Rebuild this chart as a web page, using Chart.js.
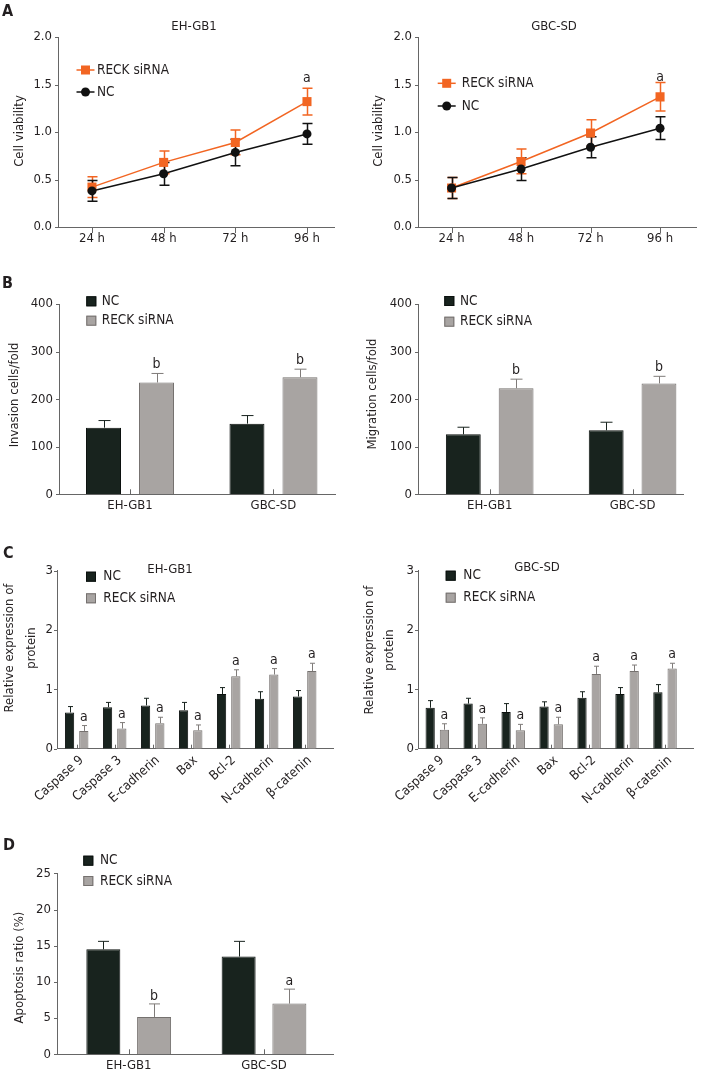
<!DOCTYPE html>
<html><head><meta charset="utf-8">
<script src="https://cdn.jsdelivr.net/npm/chart.js@4.4.1/dist/chart.umd.min.js"></script>
<style>
html,body{margin:0;padding:0;background:#fff;}
#wrap{position:relative;width:703px;height:1075px;overflow:hidden;background:#fff;}
canvas{position:absolute;left:0;top:0;}
</style></head><body><div id="wrap">
<canvas id="a1" width="703" height="1075"></canvas>
<canvas id="a2" width="703" height="1075"></canvas>
<canvas id="b1" width="703" height="1075"></canvas>
<canvas id="b2" width="703" height="1075"></canvas>
<canvas id="c1" width="703" height="1075"></canvas>
<canvas id="c2" width="703" height="1075"></canvas>
<canvas id="d1" width="703" height="1075"></canvas>
</div>
<script>
// ---------- DATA ----------
const seriesNames = ['NC', 'RECK siRNA'];
const timeLabels = ['24 h', '48 h', '72 h', '96 h'];
const cellLabels = ['EH-GB1', 'GBC-SD'];
const proteinLabels = ['Caspase 9', 'Caspase 3', 'E-cadherin', 'Bax', 'Bcl-2', 'N-cadherin', 'β-catenin'];

// A: cell viability
const viabEH_NC = [0.38, 0.56, 0.785, 0.98];
const viabEH_NC_err = [0.11, 0.12, 0.14, 0.11];
const viabEH_RECK = [0.42, 0.68, 0.89, 1.32];
const viabEH_RECK_err = [0.11, 0.12, 0.13, 0.14];
const viabGBC_NC = [0.41, 0.61, 0.84, 1.04];
const viabGBC_NC_err = [0.11, 0.12, 0.11, 0.12];
const viabGBC_RECK = [0.41, 0.69, 0.99, 1.37];
const viabGBC_RECK_err = [0.11, 0.13, 0.14, 0.15];
const viabSig = ['', '', '', 'a'];

// B: invasion / migration
const invasionNC = [140, 148.5];
const invasionNC_err = [15, 17];
const invasionRECK = [235, 246];
const invasionRECK_err = [19, 17];
const migrationNC = [126, 134.5];
const migrationNC_err = [15, 17];
const migrationRECK = [223, 233];
const migrationRECK_err = [19, 15];
const bSig = ['b', 'b'];

// C: relative protein expression
const protEH_NC = [0.61, 0.70, 0.73, 0.65, 0.92, 0.84, 0.88];
const protEH_NC_err = [0.10, 0.08, 0.12, 0.13, 0.11, 0.12, 0.10];
const protEH_RECK = [0.30, 0.34, 0.43, 0.31, 1.22, 1.25, 1.31];
const protEH_RECK_err = [0.09, 0.10, 0.10, 0.09, 0.11, 0.10, 0.13];
const protGBC_NC = [0.69, 0.76, 0.62, 0.71, 0.86, 0.92, 0.95];
const protGBC_NC_err = [0.12, 0.09, 0.14, 0.08, 0.10, 0.11, 0.13];
const protGBC_RECK = [0.32, 0.42, 0.31, 0.41, 1.26, 1.31, 1.35];
const protGBC_RECK_err = [0.10, 0.10, 0.10, 0.12, 0.13, 0.10, 0.09];
const cSig = ['a', 'a', 'a', 'a', 'a', 'a', 'a'];

// D: apoptosis
const apopNC = [14.5, 13.5];
const apopNC_err = [1.1, 2.1];
const apopRECK = [5.16, 7.0];
const apopRECK_err = [1.8, 2.0];
const dSig = ['b', 'a'];

// ---------- STYLE ----------
const W = 703, H = 1075;
// pick a Tahoma-like condensed face if available
const probe = document.createElement('canvas').getContext('2d');
probe.font = '20px "DejaVu Sans Condensed", "DejaVu Sans"';
const wCond = probe.measureText('RECK siRNA').width;
probe.font = '20px "DejaVu Sans"';
const wReg = probe.measureText('RECK siRNA').width;
const HAS_COND = wCond < wReg - 1;
const FONT = HAS_COND ? '"DejaVu Sans Condensed", "DejaVu Sans"' : '"DejaVu Sans"';
const FS = HAS_COND ? 13 : 12;        // ticks, titles
const FS_LEG = HAS_COND ? 13.5 : 12;  // legend
const TXT = '#231f20';
const AXIS = '#666666';
const ORANGE = '#f26522';
const BLACK = '#111111';
const DARK = '#18231e';
const DARK_EDGE = '#0b100e';
const GREY = '#a8a4a2';
const GREY_EDGE = '#75716f';
const GREY_ERR = '#7f7b79';
Chart.defaults.font.family = FONT;
Chart.defaults.color = TXT;

const decoCfg = {};
function drawErrors(chart, c) {
  const ctx = chart.ctx, ys = chart.scales.y;
  (c.errors || []).forEach(e => {
    const meta = chart.getDatasetMeta(e.ds);
    const vals = chart.data.datasets[e.ds].data;
    ctx.save();
    ctx.strokeStyle = e.color; ctx.lineWidth = e.lw || 1;
    meta.data.forEach((el, i) => {
      const v = vals[i].y, er = e.err[i];
      const x = Math.round(el.x) + 0.5;
      const yt = ys.getPixelForValue(v + er);
      const yb = e.both ? ys.getPixelForValue(v - er) : ys.getPixelForValue(v);
      ctx.beginPath();
      ctx.moveTo(x, yb); ctx.lineTo(x, yt);
      ctx.moveTo(x - e.cap, yt); ctx.lineTo(x + e.cap, yt);
      if (e.both) { ctx.moveTo(x - e.cap, yb); ctx.lineTo(x + e.cap, yb); }
      ctx.stroke();
    });
    ctx.restore();
  });
}
function drawSig(chart, c) {
  const s = c.sig; if (!s) return;
  const ctx = chart.ctx, ys = chart.scales.y;
  const meta = chart.getDatasetMeta(s.ds);
  const vals = chart.data.datasets[s.ds].data;
  ctx.save();
  ctx.font = (s.size || FS + 1) + 'px ' + FONT;
  ctx.fillStyle = TXT; ctx.textAlign = 'center'; ctx.textBaseline = 'alphabetic';
  meta.data.forEach((el, i) => {
    const lab = s.labels[i]; if (!lab) return;
    const top = ys.getPixelForValue(vals[i].y + s.err[i]);
    ctx.fillText(lab, el.x, top - s.gap);
  });
  ctx.restore();
}
function drawTicks(chart, c) {
  const ctx = chart.ctx, xs = chart.scales.x, ys = chart.scales.y, a = chart.chartArea;
  ctx.save(); ctx.strokeStyle = AXIS; ctx.lineWidth = 1; ctx.beginPath();
  xs.ticks.forEach(t => {
    const x = Math.round(xs.getPixelForValue(t.value)) + 0.5;
    ctx.moveTo(x, a.bottom); ctx.lineTo(x, a.bottom + c.xTick);
  });
  ys.ticks.forEach(t => {
    const y = Math.round(ys.getPixelForValue(t.value)) + 0.5;
    ctx.moveTo(a.left, y); ctx.lineTo(a.left - c.yTick, y);
  });
  ctx.stroke(); ctx.restore();
}
function drawLegend(chart, c) {
  const ctx = chart.ctx;
  (c.legend || []).forEach(it => {
    const ds = chart.data.datasets[it.ds];
    ctx.save();
    if (it.kind === 'line') {
      ctx.strokeStyle = ds.borderColor; ctx.lineWidth = ds.borderWidth;
      ctx.beginPath(); ctx.moveTo(it.x - 9, it.y); ctx.lineTo(it.x + 9, it.y); ctx.stroke();
      ctx.fillStyle = ds.pointBackgroundColor;
      if (ds.pointStyle === 'rect') {
        ctx.fillRect(it.x - 4.5, it.y - 4.5, 9, 9);
      } else {
        ctx.beginPath(); ctx.arc(it.x, it.y, ds.pointRadius, 0, Math.PI * 2); ctx.fill();
      }
    } else {
      ctx.fillStyle = ds.backgroundColor; ctx.strokeStyle = ds.borderColor; ctx.lineWidth = 1;
      ctx.fillRect(it.x - 5, it.y - 5, 10, 10);
      ctx.strokeRect(it.x - 4.5, it.y - 4.5, 9, 9);
    }
    ctx.fillStyle = TXT; ctx.font = FS_LEG + 'px ' + FONT;
    ctx.textAlign = 'left'; ctx.textBaseline = 'middle';
    ctx.fillText(it.text, it.tx, it.y);
    ctx.restore();
  });
}
function drawTexts(chart, c) {
  const ctx = chart.ctx;
  (c.texts || []).forEach(t => {
    ctx.save();
    ctx.font = t.font || (FS + 'px ' + FONT);
    ctx.fillStyle = TXT; ctx.textAlign = t.align || 'center'; ctx.textBaseline = 'middle';
    ctx.translate(t.x, t.y);
    if (t.rot) ctx.rotate(t.rot * Math.PI / 180);
    ctx.fillText(t.text, 0, 0);
    ctx.restore();
  });
}
const decoPlugin = {
  id: 'deco',
  beforeDatasetsDraw(chart) { const c = decoCfg[chart.canvas.id]; if (c.errorsBehind) drawErrors(chart, c); },
  afterDatasetsDraw(chart) { const c = decoCfg[chart.canvas.id]; if (!c.errorsBehind) drawErrors(chart, c); drawSig(chart, c); },
  afterDraw(chart) { const c = decoCfg[chart.canvas.id]; drawTicks(chart, c); drawLegend(chart, c); drawTexts(chart, c); }
};

const pts = arr => arr.map((v, i) => ({ x: i, y: v }));

function buildChart(id, type, area, xc, yc, datasets, deco) {
  const YW = 50;
  const XH = Math.min(70, H - area.bottom);
  decoCfg[id] = deco;
  return new Chart(document.getElementById(id), {
    type: type,
    data: { datasets: datasets },
    options: {
      responsive: false, animation: false, devicePixelRatio: 1, events: [],
      layout: { padding: { left: area.left - YW, top: area.top, right: W - area.right, bottom: H - area.bottom - XH } },
      plugins: { legend: { display: false }, tooltip: { enabled: false }, title: { display: false } },
      scales: {
        x: {
          type: 'linear', bounds: 'data', offset: false, min: xc.min, max: xc.max,
          afterBuildTicks: s => { s.ticks = xc.labels.map((_, i) => ({ value: i })); },
          afterFit: s => { s.height = XH; },
          grid: { display: false, drawTicks: false },
          border: { display: true, color: AXIS, width: 1 },
          ticks: {
            autoSkip: false, minRotation: xc.rot || 0, maxRotation: xc.rot || 0,
            padding: xc.pad, labelOffset: xc.labelOffset || 0,
            font: { family: FONT, size: xc.size || FS }, color: TXT,
            callback: v => xc.labels[v]
          }
        },
        y: {
          type: 'linear', min: 0, max: yc.max,
          afterFit: s => { s.width = YW; },
          grid: { display: false, drawTicks: false },
          border: { display: true, color: AXIS, width: 1 },
          ticks: {
            stepSize: yc.step, padding: yc.pad,
            font: { family: FONT, size: FS }, color: TXT,
            callback: v => (yc.fmt ? v.toFixed(yc.fmt) : String(v))
          }
        }
      }
    },
    plugins: [decoPlugin]
  });
}

function lineSets(nc, reck) {
  return [
    { type: 'line', label: seriesNames[0], data: pts(nc), borderColor: BLACK, backgroundColor: BLACK,
      borderWidth: 1.5, pointStyle: 'circle', pointRadius: 4.5, pointBackgroundColor: BLACK, pointBorderWidth: 0, tension: 0, fill: false },
    { type: 'line', label: seriesNames[1], data: pts(reck), borderColor: ORANGE, backgroundColor: ORANGE,
      borderWidth: 1.5, pointStyle: 'rect', pointRadius: 6.4, pointBackgroundColor: ORANGE, pointBorderWidth: 0, tension: 0, fill: false }
  ];
}
function barSets(nc, reck, cp, bp) {
  return [
    { label: seriesNames[0], data: pts(nc), backgroundColor: DARK, borderColor: DARK_EDGE, borderWidth: 1, categoryPercentage: cp, barPercentage: bp },
    { label: seriesNames[1], data: pts(reck), backgroundColor: GREY, borderColor: GREY_EDGE, borderWidth: 1, categoryPercentage: cp, barPercentage: bp }
  ];
}
const BOLD = 'bold 16px ' + FONT;

// ---- A1 ----
buildChart('a1', 'line', { left: 58, top: 37, right: 334, bottom: 227 },
  { min: -0.474, max: 3.377, labels: timeLabels, pad: 4 },
  { max: 2, step: 0.5, fmt: 1, pad: 6 },
  lineSets(viabEH_NC, viabEH_RECK),
  { errorsBehind: true, xTick: 6, yTick: 3,
    errors: [{ ds: 1, err: viabEH_RECK_err, color: ORANGE, cap: 5, both: true, lw: 1.5 },
             { ds: 0, err: viabEH_NC_err, color: BLACK, cap: 5, both: true, lw: 1.5 }],
    sig: { ds: 1, labels: viabSig, err: viabEH_RECK_err, gap: 6.5 },
    legend: [{ kind: 'line', ds: 1, x: 85.5, y: 70, tx: 97, text: seriesNames[1] },
             { kind: 'line', ds: 0, x: 85.5, y: 92, tx: 97, text: seriesNames[0] }],
    texts: [{ text: 'A', x: 2, y: 12, font: BOLD, align: 'left' },
            { text: cellLabels[0], x: 194, y: 27 },
            { text: 'Cell viability', x: 20, y: 131, rot: -90 }] });

// ---- A2 ----
buildChart('a2', 'line', { left: 418, top: 37, right: 700, bottom: 227 },
  { min: -0.483, max: 3.526, labels: timeLabels, pad: 4 },
  { max: 2, step: 0.5, fmt: 1, pad: 6 },
  lineSets(viabGBC_NC, viabGBC_RECK),
  { errorsBehind: true, xTick: 6, yTick: 3,
    errors: [{ ds: 1, err: viabGBC_RECK_err, color: ORANGE, cap: 5, both: true, lw: 1.5 },
             { ds: 0, err: viabGBC_NC_err, color: BLACK, cap: 5, both: true, lw: 1.5 }],
    sig: { ds: 1, labels: viabSig, err: viabGBC_RECK_err, gap: 2 },
    legend: [{ kind: 'line', ds: 1, x: 446.7, y: 83.3, tx: 461.7, text: seriesNames[1] },
             { kind: 'line', ds: 0, x: 446.7, y: 106, tx: 461.7, text: seriesNames[0] }],
    texts: [{ text: cellLabels[1], x: 554, y: 27 },
            { text: 'Cell viability', x: 379, y: 131, rot: -90 }] });

// ---- B1 ----
buildChart('b1', 'bar', { left: 59, top: 304, right: 335, bottom: 494.3 },
  { min: -0.495, max: 1.429, labels: cellLabels, pad: 4 },
  { max: 400, step: 100, pad: 6 },
  barSets(invasionNC, invasionRECK, 0.739, 0.66),
  { xTick: -5, yTick: 3,
    errors: [{ ds: 0, err: invasionNC_err, color: DARK, cap: 6 },
             { ds: 1, err: invasionRECK_err, color: GREY_ERR, cap: 6 }],
    sig: { ds: 1, labels: bSig, err: invasionRECK_err, gap: 5 },
    legend: [{ kind: 'box', ds: 0, x: 91.3, y: 301.3, tx: 101.7, text: seriesNames[0] },
             { kind: 'box', ds: 1, x: 91.3, y: 320.7, tx: 101.7, text: seriesNames[1] }],
    texts: [{ text: 'B', x: 2, y: 284, font: BOLD, align: 'left' },
            { text: 'Invasion cells/fold', x: 14.5, y: 395, rot: -90 }] });

// ---- B2 ----
buildChart('b2', 'bar', { left: 418, top: 304, right: 683, bottom: 494.3 },
  { min: -0.502, max: 1.353, labels: cellLabels, pad: 4 },
  { max: 400, step: 100, pad: 6 },
  barSets(migrationNC, migrationRECK, 0.739, 0.66),
  { xTick: -5, yTick: 3,
    errors: [{ ds: 0, err: migrationNC_err, color: DARK, cap: 6 },
             { ds: 1, err: migrationRECK_err, color: GREY_ERR, cap: 6 }],
    sig: { ds: 1, labels: bSig, err: migrationRECK_err, gap: 5 },
    legend: [{ kind: 'box', ds: 0, x: 449.3, y: 301, tx: 460, text: seriesNames[0] },
             { kind: 'box', ds: 1, x: 449.3, y: 321.7, tx: 460, text: seriesNames[1] }],
    texts: [{ text: 'Migration cells/fold', x: 373, y: 394, rot: -90 }] });

// ---- C1 ----
buildChart('c1', 'bar', { left: 57, top: 570.7, right: 333, bottom: 748.7 },
  { min: -0.518, max: 6.745, labels: proteinLabels, pad: 4, rot: 42, labelOffset: 5, size: FS },
  { max: 3, step: 1, pad: 4 },
  barSets(protEH_NC, protEH_RECK, 0.75, 0.65),
  { xTick: -4, yTick: 3,
    errors: [{ ds: 0, err: protEH_NC_err, color: DARK, cap: 2.5 },
             { ds: 1, err: protEH_RECK_err, color: GREY_ERR, cap: 2.5 }],
    sig: { ds: 1, labels: cSig, err: protEH_RECK_err, gap: 5 },
    legend: [{ kind: 'box', ds: 0, x: 91, y: 576.7, tx: 103.3, text: seriesNames[0] },
             { kind: 'box', ds: 1, x: 91, y: 598.3, tx: 103.3, text: seriesNames[1] }],
    texts: [{ text: 'C', x: 3, y: 554, font: BOLD, align: 'left' },
            { text: cellLabels[0], x: 170, y: 570 },
            { text: 'Relative expression of', x: 10, y: 648, rot: -90 },
            { text: 'protein', x: 32, y: 648, rot: -90 }] });

// ---- C2 ----
buildChart('c2', 'bar', { left: 418, top: 570.7, right: 693, bottom: 748.7 },
  { min: -0.508, max: 6.737, labels: proteinLabels, pad: 4, rot: 42, labelOffset: 5, size: FS },
  { max: 3, step: 1, pad: 4 },
  barSets(protGBC_NC, protGBC_RECK, 0.75, 0.65),
  { xTick: -4, yTick: 3,
    errors: [{ ds: 0, err: protGBC_NC_err, color: DARK, cap: 2.5 },
             { ds: 1, err: protGBC_RECK_err, color: GREY_ERR, cap: 2.5 }],
    sig: { ds: 1, labels: cSig, err: protGBC_RECK_err, gap: 5 },
    legend: [{ kind: 'box', ds: 0, x: 450.7, y: 575.7, tx: 463.3, text: seriesNames[0] },
             { kind: 'box', ds: 1, x: 450.7, y: 597.7, tx: 463.3, text: seriesNames[1] }],
    texts: [{ text: cellLabels[1], x: 537, y: 568 },
            { text: 'Relative expression of', x: 369.5, y: 650, rot: -90 },
            { text: 'protein', x: 390, y: 650, rot: -90 }] });

// ---- D ----
buildChart('d1', 'bar', { left: 57, top: 873.3, right: 333, bottom: 1054.3 },
  { min: -0.53, max: 1.51, labels: cellLabels, pad: 4 },
  { max: 25, step: 5, pad: 6 },
  barSets(apopNC, apopRECK, 0.75, 0.67),
  { xTick: -5, yTick: 3,
    errors: [{ ds: 0, err: apopNC_err, color: DARK, cap: 5.5 },
             { ds: 1, err: apopRECK_err, color: GREY_ERR, cap: 5.5 }],
    sig: { ds: 1, labels: dSig, err: apopRECK_err, gap: 4 },
    legend: [{ kind: 'box', ds: 0, x: 88.3, y: 860.7, tx: 100, text: seriesNames[0] },
             { kind: 'box', ds: 1, x: 88.3, y: 881, tx: 100, text: seriesNames[1] }],
    texts: [{ text: 'D', x: 3, y: 846, font: BOLD, align: 'left' },
            { text: 'Apoptosis ratio (%)', x: 19.5, y: 967.5, rot: -90 }] });
</script>
</body></html>
